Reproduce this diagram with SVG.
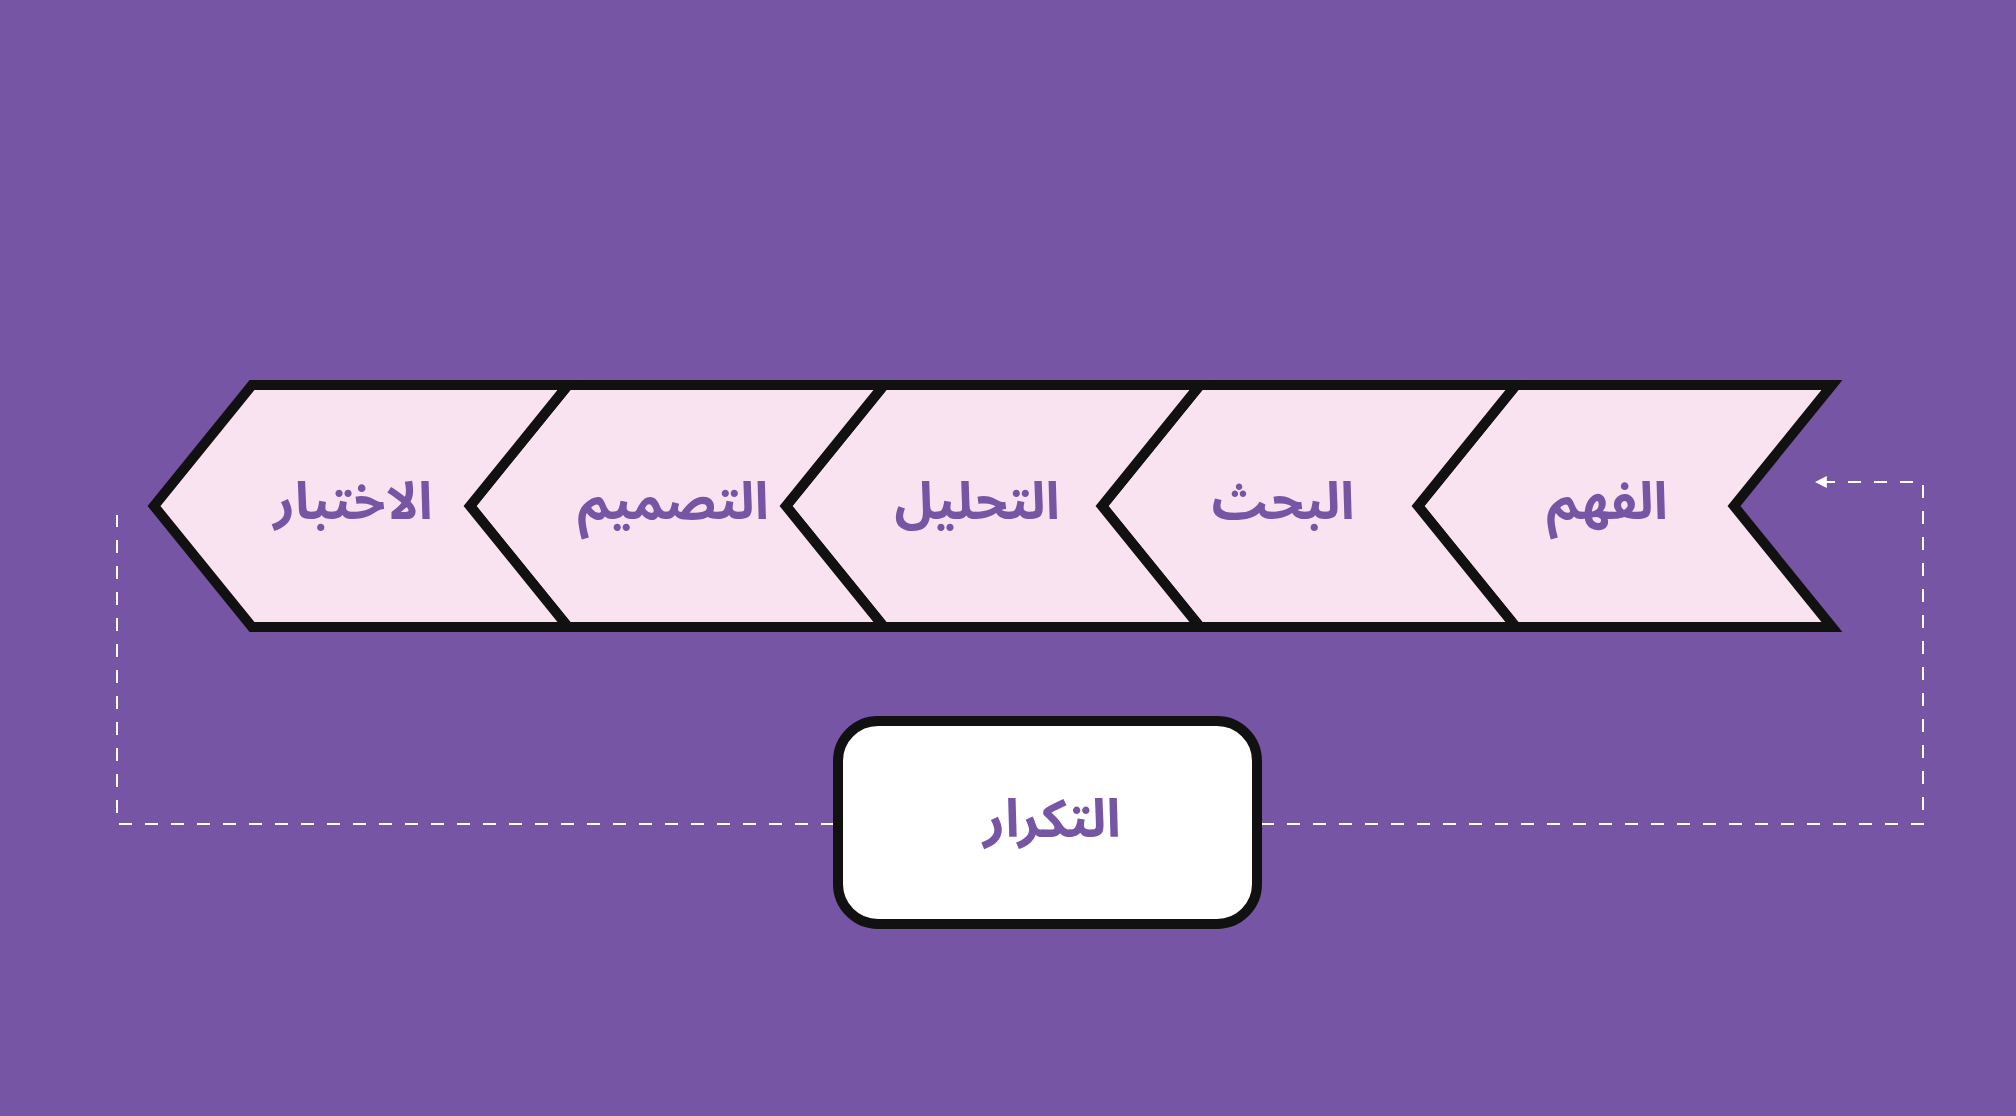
<svg xmlns="http://www.w3.org/2000/svg" width="2016" height="1116" viewBox="0 0 2016 1116">
<defs>
<style>
.chev{fill:#FAE3F0;stroke:#111111;stroke-width:10;stroke-linejoin:miter}
.lbl{font-family:"Noto Sans Arabic","Noto Kufi Arabic","DejaVu Sans",sans-serif;font-weight:bold;font-size:52px;fill:#7655A5;text-anchor:middle}
.dash{fill:none;stroke:#FFFFFF;stroke-width:2;stroke-dasharray:13 13}
</style>
<marker id="arr" viewBox="0 0 10 10" refX="9" refY="5" markerWidth="6" markerHeight="6" orient="auto">
<path d="M0,0 L10,5 L0,10 Z" fill="#FFFFFF"/>
</marker>
</defs>
<rect x="0" y="0" width="2016" height="1116" fill="#7555A4"/>
<g id="connectors">
<path class="dash" d="M1261,824 L1923,824 L1923,482 L1816,482" marker-end="url(#arr)"/>
<path class="dash" d="M834,824 L117,824 L117,515"/>
</g>
<g id="node-fahm">
<polygon class="chev" points="1832,385 1734,506 1832,627 1516,627 1418,506 1516,385"/>
<text class="lbl" x="1607" y="519">الفهم</text>
</g>
<g id="node-bahth">
<polygon class="chev" points="1516,385 1418,506 1516,627 1200,627 1102,506 1200,385"/>
<text class="lbl" x="1283" y="519">البحث</text>
</g>
<g id="node-tahlil">
<polygon class="chev" points="1200,385 1102,506 1200,627 884,627 786,506 884,385"/>
<text class="lbl" x="977" y="519">التحليل</text>
</g>
<g id="node-tasmim">
<polygon class="chev" points="884,385 786,506 884,627 568,627 470,506 568,385"/>
<text class="lbl" x="673" y="519">التصميم</text>
</g>
<g id="node-ikhtibar">
<polygon class="chev" points="568,385 470,506 568,627 252,627 154,506 252,385"/>
<text class="lbl" x="353" y="519">الاختبار</text>
</g>
<g id="node-tikrar">
<rect x="838" y="721" width="419" height="203" rx="40" ry="40" fill="#FFFFFF" stroke="#111111" stroke-width="10"/>
<text class="lbl" x="1052" y="837" style="font-size:53px">التكرار</text>
</g>
</svg>
